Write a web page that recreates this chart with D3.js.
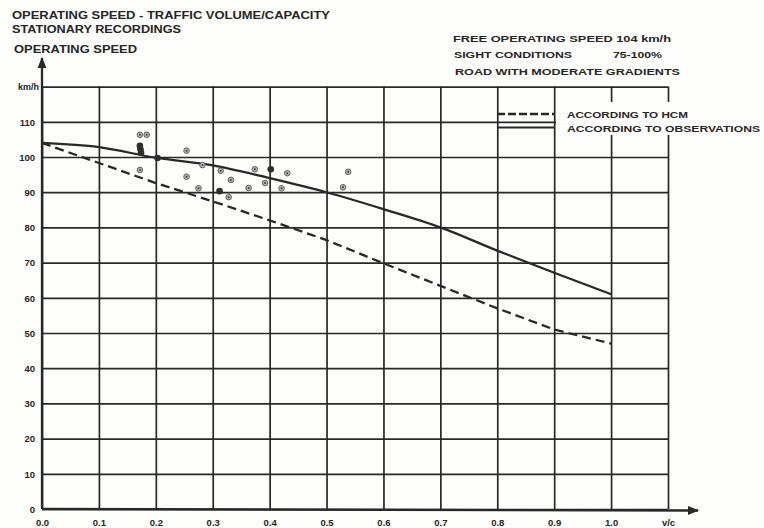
<!DOCTYPE html>
<html>
<head>
<meta charset="utf-8">
<script src="https://cdn.jsdelivr.net/npm/d3@7"></script>
<style>
  html, body { margin: 0; padding: 0; background: #fdfdfb; }
  svg { display: block; }
  text { font-family: "Liberation Sans", "DejaVu Sans", sans-serif; fill: #262626; font-weight: bold; }
</style>
</head>
<body>
<svg id="chart" width="764" height="528"></svg>
<script>
// Axis ticks
const vcTicks = [0, 0.1, 0.2, 0.3, 0.4, 0.5, 0.6, 0.7, 0.8, 0.9, 1.0, 1.1];
const vcTickLabels = ["0.0", "0.1", "0.2", "0.3", "0.4", "0.5", "0.6", "0.7", "0.8", "0.9", "1.0", "v/c"];
const speedTicks = [0, 10, 20, 30, 40, 50, 60, 70, 80, 90, 100, 110, 120];
const speedTickLabels = ["0", "10", "20", "30", "40", "50", "60", "70", "80", "90", "100", "110", "km/h"];

// Speed curve according to HCM (dashed)
const hcmVC = [0, 0.1, 0.2, 0.3, 0.4, 0.5, 0.6, 0.7, 0.8, 0.9, 1.0];
const hcmSpeed = [104, 98.3, 92.6, 87.4, 82, 76.4, 69.8, 63.4, 57, 51, 47];

// Speed curve according to observations (solid)
const obsCurveVC = [0, 0.1, 0.2, 0.3, 0.4, 0.5, 0.6, 0.7, 0.8, 0.9, 1.0];
const obsCurveSpeed = [104, 102.8, 99.8, 97.6, 94, 90, 85.2, 80, 73.4, 67.1, 61];

// Stationary recordings (individual observations)
const recVC = [0.172, 0.184, 0.254, 0.172, 0.282, 0.314, 0.254, 0.332, 0.275, 0.328,
               0.363, 0.374, 0.392, 0.421, 0.431, 0.538, 0.529];
const recSpeed = [106.3, 106.3, 101.8, 96.3, 97.7, 96.1, 94.4, 93.5, 91.1, 88.6,
                  91.2, 96.5, 92.6, 91.1, 95.4, 95.8, 91.4];
// Recordings drawn as solid dots
const recDarkVC = [0.172, 0.173, 0.174, 0.203, 0.312, 0.402];
const recDarkSpeed = [103.2, 102.2, 101.2, 99.7, 90.3, 96.5];

const headerLines = ["OPERATING SPEED - TRAFFIC VOLUME/CAPACITY", "STATIONARY RECORDINGS"];
const yAxisTitle = "OPERATING SPEED";
const conditionsLines = ["FREE OPERATING SPEED 104 km/h", "SIGHT CONDITIONS", "ROAD WITH MODERATE GRADIENTS"];
const sightValue = "75-100%";
const legendLabels = ["ACCORDING TO HCM", "ACCORDING TO OBSERVATIONS"];

const svg = d3.select("#chart");
const ink = "#282828";

const x = d3.scaleLinear().domain([0, 1.1]).range([42, 668]);
const y = d3.scaleLinear().domain([0, 120]).range([509, 86.6]);

// Grid built from the axes
const gx = svg.append("g").attr("transform", `translate(0,${y(0)})`)
  .call(d3.axisBottom(x).tickValues(vcTicks)
    .tickSize(-(y(0) - y(120)))
    .tickFormat((d, i) => vcTickLabels[i]));
gx.select(".domain").remove();
gx.selectAll(".tick line").attr("stroke", ink).attr("stroke-width", 1.7);
gx.selectAll(".tick text")
  .attr("y", 17).attr("dy", 0)
  .style("font-size", "9.5px").attr("fill", ink);

const gy = svg.append("g").attr("transform", `translate(${x(0)},0)`)
  .call(d3.axisLeft(y).tickValues(speedTicks)
    .tickSize(-(x(1.1) - x(0)))
    .tickFormat((d, i) => speedTickLabels[i]));
gy.select(".domain").remove();
gy.selectAll(".tick line").attr("stroke", ink).attr("stroke-width", 1.7);
gy.selectAll(".tick text")
  .attr("x", -7).attr("dy", "0.35em")
  .style("font-size", "9.5px").attr("fill", ink);
gy.selectAll(".tick").filter(d => d === 120).select("text")
  .attr("x", -3).attr("dy", "0.3em").style("font-size", "9px");

// Main axes with arrows
svg.append("defs").append("marker")
  .attr("id", "arrow").attr("viewBox", "0 0 10 10")
  .attr("refX", 9).attr("refY", 5)
  .attr("markerWidth", 5).attr("markerHeight", 5)
  .attr("orient", "auto-start-reverse")
  .append("path").attr("d", "M0,1 L10,5 L0,9 Z").attr("fill", ink);

svg.append("line")
  .attr("x1", x(0)).attr("y1", y(0)).attr("x2", x(0)).attr("y2", 58)
  .attr("stroke", ink).attr("stroke-width", 2.3).attr("marker-end", "url(#arrow)");
svg.append("line")
  .attr("x1", x(0)).attr("y1", y(0)).attr("x2", 698).attr("y2", y(0) + 1.5)
  .attr("stroke", ink).attr("stroke-width", 2.3).attr("marker-end", "url(#arrow)");

// Curves
const hcmLine = d3.line().x((d, i) => x(hcmVC[i])).y(d => y(d));
svg.append("path").datum(hcmSpeed)
  .attr("d", hcmLine).attr("fill", "none")
  .attr("stroke", ink).attr("stroke-width", 2.3)
  .attr("stroke-dasharray", "9,5");

const obsLine = d3.line().x((d, i) => x(obsCurveVC[i])).y(d => y(d)).curve(d3.curveMonotoneX);
svg.append("path").datum(obsCurveSpeed)
  .attr("d", obsLine).attr("fill", "none")
  .attr("stroke", ink).attr("stroke-width", 2.2);

// Recordings
const rec = svg.append("g");
rec.selectAll("circle.ring").data(recSpeed).join("circle")
  .attr("class", "ring")
  .attr("cx", (d, i) => x(recVC[i])).attr("cy", d => y(d))
  .attr("r", 2.8).attr("fill", "#b9b9b9").attr("stroke", "#5e5e5e").attr("stroke-width", 1);
rec.selectAll("circle.core").data(recSpeed).join("circle")
  .attr("class", "core")
  .attr("cx", (d, i) => x(recVC[i])).attr("cy", d => y(d))
  .attr("r", 1).attr("fill", "#3a3a3a");
rec.selectAll("circle.dark").data(recDarkSpeed).join("circle")
  .attr("class", "dark")
  .attr("cx", (d, i) => x(recDarkVC[i])).attr("cy", d => y(d))
  .attr("r", 3.3).attr("fill", "#2e2e2e");

// Headings
svg.append("text").attr("x", 12).attr("y", 19).text(headerLines[0])
  .style("font-size", "10px").attr("textLength", 318).attr("lengthAdjust", "spacingAndGlyphs");
svg.append("text").attr("x", 12).attr("y", 33).text(headerLines[1])
  .style("font-size", "10px").attr("textLength", 169).attr("lengthAdjust", "spacingAndGlyphs");
svg.append("text").attr("x", 14).attr("y", 53).text(yAxisTitle)
  .style("font-size", "10px").attr("textLength", 123).attr("lengthAdjust", "spacingAndGlyphs");

svg.append("text").attr("x", 453).attr("y", 42).text(conditionsLines[0])
  .style("font-size", "9.5px").attr("textLength", 218).attr("lengthAdjust", "spacingAndGlyphs");
svg.append("text").attr("x", 454).attr("y", 58).text(conditionsLines[1])
  .style("font-size", "9.5px").attr("textLength", 118).attr("lengthAdjust", "spacingAndGlyphs");
svg.append("text").attr("x", 613).attr("y", 58).text(sightValue)
  .style("font-size", "9.5px").attr("textLength", 49).attr("lengthAdjust", "spacingAndGlyphs");
svg.append("text").attr("x", 455).attr("y", 75).text(conditionsLines[2])
  .style("font-size", "9.5px").attr("textLength", 225).attr("lengthAdjust", "spacingAndGlyphs");

// Legend
svg.append("rect").attr("x", 556).attr("y", 102).attr("width", 208).attr("height", 33)
  .attr("fill", "#fdfdfb");
svg.append("line").attr("x1", 497).attr("x2", 554).attr("y1", 114).attr("y2", 114)
  .attr("stroke", ink).attr("stroke-width", 2.3).attr("stroke-dasharray", "8,3");
svg.append("line").attr("x1", 497).attr("x2", 554).attr("y1", 127.5).attr("y2", 127.5)
  .attr("stroke", ink).attr("stroke-width", 2.2);
svg.append("text").attr("x", 567).attr("y", 117.5).text(legendLabels[0])
  .style("font-size", "9.5px").attr("textLength", 121).attr("lengthAdjust", "spacingAndGlyphs");
svg.append("text").attr("x", 567).attr("y", 132).text(legendLabels[1])
  .style("font-size", "9.5px").attr("textLength", 193).attr("lengthAdjust", "spacingAndGlyphs");
</script>
</body>
</html>
